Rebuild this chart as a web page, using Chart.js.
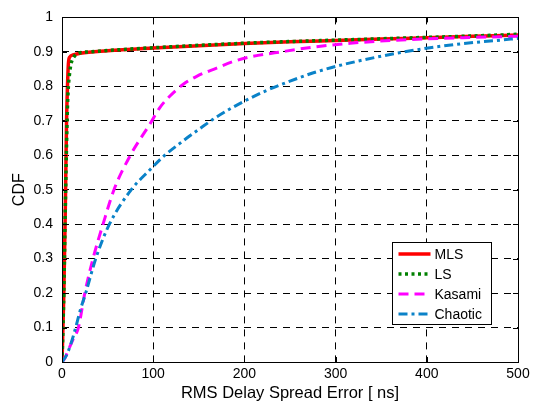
<!DOCTYPE html>
<html>
<head>
<meta charset="utf-8">
<script src="https://cdn.jsdelivr.net/npm/chart.js@4/dist/chart.umd.min.js"></script>
<style>
  html, body { margin: 0; padding: 0; background: #fff; }
  canvas { display: block; }
</style>
</head>
<body>
<canvas id="c" width="542" height="410"></canvas>
<script>
// ---- Data ----
const seriesLabels = ['MLS', 'LS', 'Kasami', 'Chaotic'];

const mlsX = [0, 2, 3.5, 5, 6, 7, 8.5, 12, 20, 50, 100, 150, 200, 250, 300, 350, 400, 450, 500];
const mlsY = [0, 0.2, 0.42, 0.7, 0.8, 0.865, 0.885, 0.891, 0.896, 0.903, 0.911, 0.918, 0.924, 0.929, 0.933, 0.937, 0.941, 0.945, 0.949];

const lsX = [0, 2, 4, 6, 7, 8, 9.5, 11, 13.5, 18, 30, 50, 100, 150, 200, 250, 300, 350, 400, 450, 500];
const lsY = [0, 0.2, 0.5, 0.74, 0.8, 0.83, 0.86, 0.875, 0.887, 0.896, 0.9, 0.904, 0.912, 0.919, 0.925, 0.93, 0.934, 0.938, 0.942, 0.946, 0.951];

const kasamiX = [0, 3, 7, 12, 18, 25, 34, 45, 57, 75, 96.5, 107.5, 118.4, 133, 147.7, 169.6, 187.8, 206, 242.7, 279, 316, 367, 440, 500];
const kasamiY = [0, 0.01, 0.035, 0.065, 0.1, 0.2, 0.3, 0.4, 0.5, 0.6, 0.691, 0.739, 0.772, 0.806, 0.829, 0.853, 0.872, 0.885, 0.901, 0.915, 0.925, 0.934, 0.941, 0.945];

const chaoticX = [0, 5, 10, 15, 20, 26, 37, 52, 76, 96.5, 111, 133, 151, 170, 200.7, 224.4, 250, 279, 316, 367, 403.5, 440, 476.6, 500];
const chaoticY = [0, 0.02, 0.055, 0.1, 0.15, 0.2, 0.3, 0.4, 0.5, 0.558, 0.596, 0.642, 0.677, 0.712, 0.758, 0.788, 0.815, 0.842, 0.868, 0.896, 0.912, 0.924, 0.933, 0.939];

const xTickValues = [0, 100, 200, 300, 400, 500];
const yTickValues = [0, 0.1, 0.2, 0.3, 0.4, 0.5, 0.6, 0.7, 0.8, 0.9, 1];

const xTitle = 'RMS Delay Spread Error [ ns]';
const yTitle = 'CDF';

// ---- Build ----
const pts = (xs, ys) => xs.map((x, i) => ({ x: x, y: ys[i] }));
const FONT = "'Liberation Sans', Arial, Helvetica, sans-serif";

const datasets = [
  { label: seriesLabels[0], data: pts(mlsX, mlsY), borderColor: '#ff0000', borderWidth: 3.5, borderDash: [], order: 4 },
  { label: seriesLabels[1], data: pts(lsX, lsY), borderColor: '#008000', borderWidth: 3.5, borderDash: [3, 3.5], order: 3 },
  { label: seriesLabels[2], data: pts(kasamiX, kasamiY), borderColor: '#ff00ff', borderWidth: 3, borderDash: [10, 6], order: 2 },
  { label: seriesLabels[3], data: pts(chaoticX, chaoticY), borderColor: '#0a82c8', borderWidth: 3, borderDash: [9, 4, 3, 4], order: 1 }
].map(d => Object.assign(d, {
  fill: false, pointRadius: 0, pointHoverRadius: 0,
  cubicInterpolationMode: 'monotone', borderCapStyle: 'butt', borderJoinStyle: 'round'
}));

const frameAndLegend = {
  id: 'frameAndLegend',
  afterDraw(chart) {
    const { ctx, chartArea: a, scales } = chart;
    ctx.save();
    // plot box
    ctx.strokeStyle = '#000';
    ctx.lineWidth = 1;
    ctx.setLineDash([]);
    ctx.strokeRect(Math.round(a.left) + 0.5, Math.round(a.top) + 0.5,
                   Math.round(a.right - a.left), Math.round(a.bottom - a.top));
    // inner tick marks
    const tl = 5;
    ctx.beginPath();
    scales.x.ticks.forEach(t => {
      const px = Math.round(scales.x.getPixelForValue(t.value)) + 0.5;
      ctx.moveTo(px, a.bottom); ctx.lineTo(px, a.bottom - tl);
      ctx.moveTo(px, a.top); ctx.lineTo(px, a.top + tl);
    });
    scales.y.ticks.forEach(t => {
      const py = Math.round(scales.y.getPixelForValue(t.value)) + 0.5;
      ctx.moveTo(a.left, py); ctx.lineTo(a.left + tl, py);
      ctx.moveTo(a.right, py); ctx.lineTo(a.right - tl, py);
    });
    ctx.stroke();

    // legend box
    const bw = 99, bh = 82;
    const bx = Math.round(a.right - 27 - bw) + 0.5;
    const by = Math.round(a.bottom - 38 - bh) + 0.5;
    ctx.fillStyle = '#fff';
    ctx.fillRect(bx, by, bw, bh);
    ctx.strokeStyle = '#000';
    ctx.lineWidth = 1;
    ctx.strokeRect(bx, by, bw, bh);
    ctx.font = '14px ' + FONT;
    ctx.textBaseline = 'middle';
    ctx.textAlign = 'left';
    chart.data.datasets.forEach((d, i) => {
      const ry = by + 11.5 + i * 20;
      ctx.beginPath();
      ctx.strokeStyle = d.borderColor;
      ctx.lineWidth = d.borderWidth;
      ctx.setLineDash(d.borderDash || []);
      ctx.lineCap = 'butt';
      ctx.moveTo(bx + 6, ry);
      ctx.lineTo(bx + 38, ry);
      ctx.stroke();
      ctx.setLineDash([]);
      ctx.fillStyle = '#000';
      ctx.fillText(d.label, bx + 42, ry + 1);
    });
    ctx.restore();
  }
};

new Chart(document.getElementById('c'), {
  type: 'line',
  data: { datasets: datasets },
  options: {
    responsive: false,
    animation: false,
    devicePixelRatio: 1,
    layout: { padding: { top: 12, right: 24, left: 0, bottom: 0 } },
    plugins: { legend: { display: false }, tooltip: { enabled: false }, title: { display: false } },
    scales: {
      x: {
        type: 'linear', min: 0, max: 500,
        afterBuildTicks: s => { s.ticks = xTickValues.map(v => ({ value: v })); },
        afterFit: s => { s.height = 48; },
        ticks: { color: '#000', font: { family: FONT, size: 14 }, padding: 4, callback: v => String(v), maxRotation: 0 },
        grid: { color: '#000', lineWidth: 1, drawTicks: false },
        border: { display: false, dash: [7, 6] },
        title: { display: true, text: xTitle, color: '#000', font: { family: FONT, size: 16.5 }, padding: { top: 0, bottom: 7 } }
      },
      y: {
        type: 'linear', min: 0, max: 1,
        afterBuildTicks: s => { s.ticks = yTickValues.map(v => ({ value: v })); },
        afterFit: s => { s.width = 62; },
        ticks: { color: '#000', font: { family: FONT, size: 14 }, padding: 9, callback: v => String(v) },
        grid: { color: '#000', lineWidth: 1, drawTicks: false },
        border: { display: false, dash: [7, 6] },
        title: { display: true, text: yTitle, color: '#000', font: { family: FONT, size: 16 }, padding: { top: 10, bottom: 0 } }
      }
    }
  },
  plugins: [frameAndLegend]
});
</script>
</body>
</html>
